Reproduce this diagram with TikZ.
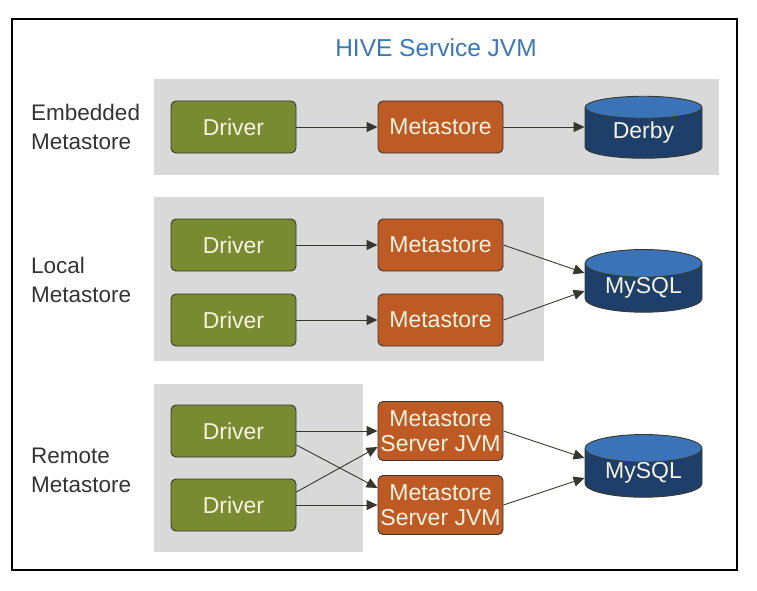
\documentclass[tikz,border=0pt]{standalone}
\usepackage{fontspec}
\setmainfont{Liberation Sans}
\usetikzlibrary{arrows.meta}
\usetikzlibrary{shapes.geometric}
\definecolor{drivergreen}{RGB}{122,138,48}
\definecolor{metaorange}{RGB}{190,90,35}
\definecolor{dbnavy}{RGB}{31,63,107}
\definecolor{dbblue}{RGB}{59,115,185}
\definecolor{panelgray}{RGB}{217,217,217}
\definecolor{titleblue}{RGB}{58,120,184}
\definecolor{labelgray}{RGB}{51,51,51}
\definecolor{boxline}{RGB}{55,55,45}
\definecolor{boxtext}{RGB}{245,242,225}
\tikzset{
    box/.style={draw=boxline, line width=0.9pt, rounded corners=5pt, minimum width=125pt, minimum height=52pt, inner sep=0pt, align=center, text=boxtext, font=\fontsize{23}{25}\selectfont},
    driver/.style={box, fill=drivergreen},
    metastore/.style={box, fill=metaorange},
    metaserver/.style={metastore, minimum height=59pt},
    database/.style={cylinder, shape border rotate=90, shape aspect=0.36, draw=boxline, line width=0.9pt, cylinder uses custom fill, cylinder body fill=dbnavy, cylinder end fill=dbblue, minimum width=117pt, minimum height=62pt, inner sep=0pt, text=boxtext, font=\fontsize{23}{25}\selectfont},
    sidelabel/.style={anchor=west, align=left, inner sep=0pt, text=labelgray, font=\fontsize{22.5}{29}\selectfont},
    link/.style={-{Triangle[length=11pt, width=10pt]}, draw=boxline, line width=0.9pt},
}

\begin{document}
\begin{tikzpicture}[x=1pt, y=-1pt]
    \useasboundingbox (0,0) rectangle (757,591);
    \draw [line width=1.5pt] (12,19) rectangle (737,570);
    \node [text=titleblue, font=\fontsize{24.5}{27}\selectfont] (title) at (436,48) {HIVE Service JVM};
    % embedded
    \fill [panelgray] (154,79) rectangle (719,175);
    \node [sidelabel] (lbembedded) at (31,127) {Embedded\\Metastore};
    \node [driver] (d1) at (233.5,127) {Driver};
    \node [metastore] (m1) at (440.5,127) {Metastore};
    \node [database] (derby) at (643.5,133) {Derby};
    \draw [link] (d1) -- (m1);
    \draw [link] (m1) -- (derby.west |- m1.east);
    % local
    \fill [panelgray] (154,197) rectangle (544,361);
    \node [sidelabel] (lblocal) at (31,280) {Local\\Metastore};
    \node [driver] (d2) at (233.5,245) {Driver};
    \node [driver] (d3) at (233.5,320) {Driver};
    \node [metastore] (m2) at (440.5,245) {Metastore};
    \node [metastore] (m3) at (440.5,320) {Metastore};
    \node [database] (mysqllocal) at (643.5,288) {MySQL};
    \draw [link] (d2) -- (m2);
    \draw [link] (d3) -- (m3);
    \draw [link] (m2.east) -- ([yshift=15pt]mysqllocal.west);
    \draw [link] (m3.east) -- ([yshift=-3pt]mysqllocal.west);
    % remote
    \fill [panelgray] (154,384) rectangle (363,552);
    \node [sidelabel] (lbremote) at (31,470) {Remote\\Metastore};
    \node [driver] (d4) at (233.5,431) {Driver};
    \node [driver] (d5) at (233.5,505) {Driver};
    \node [metaserver] (s1) at (440.5,431) {Metastore\\Server JVM};
    \node [metaserver] (s2) at (440.5,505) {Metastore\\Server JVM};
    \node [database] (mysqlremote) at (643.5,473) {MySQL};
    \draw [link] (d4) -- (s1);
    \draw [link] (d5) -- (s2);
    \draw [link] ([yshift=-14pt]d4.east) -- ([yshift=17pt]s2.west);
    \draw [link] ([yshift=13pt]d5.east) -- ([yshift=-16pt]s1.west);
    \draw [link] (s1.east) -- ([yshift=15pt]mysqlremote.west);
    \draw [link] (s2.east) -- ([yshift=-5pt]mysqlremote.west);
\end{tikzpicture}
\end{document}
